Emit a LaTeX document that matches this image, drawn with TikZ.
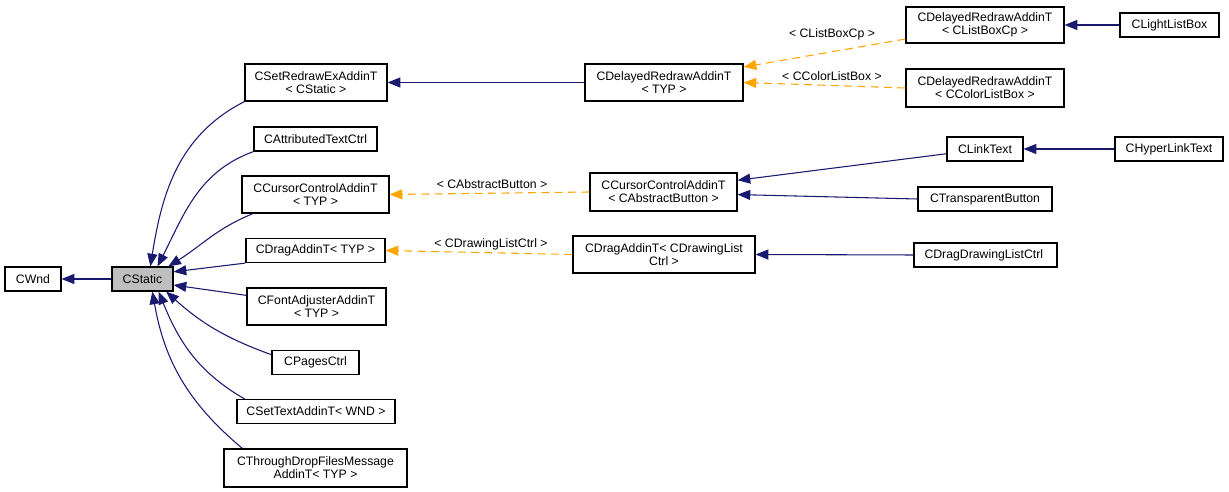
\documentclass[tikz,border=0pt]{standalone}
\usepackage{fontspec}
\setmainfont{Liberation Sans}
\usetikzlibrary{arrows.meta}
\definecolor{doxyNavy}{HTML}{191970}
\definecolor{doxyOrange}{HTML}{FFA500}
\definecolor{doxyGray}{HTML}{BFBFBF}
\newcommand\colorInherit{doxyNavy}
\newcommand\colorTemplate{doxyOrange}
\newcommand\pxUnit{0.75pt}
\newcommand\classFont{\fontsize{9.2}{9.8}\selectfont}
\tikzset{
	classbox/.style={draw=black, line width=0.9pt, rectangle, align=center, inner sep=0pt, font=\classFont},
	inheritLine/.style={draw=\colorInherit, line width=0.8pt, -{Triangle[length=9.5pt,width=7.5pt]}},
	templateLine/.style={draw=\colorTemplate, line width=0.8pt, dash pattern=on 6pt off 4pt, -{Triangle[length=9.5pt,width=7.5pt]}},
	edgelabel/.style={inner sep=0pt, font=\classFont}
}

\begin{document}
\begin{tikzpicture}[x=\pxUnit, y=\pxUnit]
	\useasboundingbox (0,0) rectangle (1229,492);
	
	% class boxes: name / centre x / centre y / width / height / fill / text
	\foreach \boxName/\posX/\posY/\boxW/\boxH/\boxFill/\boxText in {
		cwnd/33/213/56/24/white/{CWnd},
		cstatic/142.5/213/61/24/doxyGray/{CStatic},
		csetRedraw/316/409.5/142/37/white/{CSetRedrawExAddinT\\< CStatic >},
		cattributed/315.5/353/123/24/white/{CAttributedTextCtrl},
		ccursorTyp/315.5/297.5/147/37/white/{CCursorControlAddinT\\< TYP >},
		cdragTyp/315.5/241.5/139/24/white/{CDragAddinT< TYP >},
		cfontAdj/316.5/185.5/139/37/white/{CFontAdjusterAddinT\\< TYP >},
		cpages/315.5/129.5/87/24/white/{CPagesCtrl},
		csetText/316/80.5/158/24/white/{CSetTextAddinT< WND >},
		cthrough/315.5/24/183/38/white/{CThroughDropFilesMessage\\AddinT< TYP >},
		cdelayedTyp/664/409.5/158/37/white/{CDelayedRedrawAddinT\\< TYP >},
		ccursorAbs/663.5/300/147/38/white/{CCursorControlAddinT\\< CAbstractButton >},
		cdragList/664/237.5/182/37/white/{CDragAddinT< CDrawingList\\Ctrl >},
		cdelayedList/985/467/158/36/white/{CDelayedRedrawAddinT\\< CListBoxCp >},
		clightList/1169.5/467/99/24/white/{CLightListBox},
		cdelayedColor/985/404/158/38/white/{CDelayedRedrawAddinT\\< CColorListBox >},
		clinkText/985/343/76/24/white/{CLinkText},
		chyperLink/1169/343/108/24/white/{CHyperLinkText},
		ctransparent/985/293/134/24/white/{CTransparentButton},
		cdragDrawing/985.5/237/143/24/white/{CDragDrawingListCtrl}
	}{
		\node[classbox, fill=\boxFill, minimum width=\boxW*\pxUnit, minimum height=\boxH*\pxUnit] (\boxName) at (\posX,\posY) {\boxText};
	}
	
	% template arguments
	\node[edgelabel] (lblListBoxCp) at (832,458) {< CListBoxCp >};
	\node[edgelabel] (lblColorListBox) at (832,416) {< CColorListBox >};
	\node[edgelabel] (lblAbstractButton) at (492,308) {< CAbstractButton >};
	\node[edgelabel] (lblDrawingList) at (491,248) {< CDrawingListCtrl >};
	
	% CStatic and its children
	\draw[inheritLine] (cstatic.west) to (cwnd.east);
	\draw[inheritLine] (csetRedraw.south west) to[out=207, in=81] (cstatic.58);
	\draw[inheritLine] (cattributed.south west) to[out=200, in=63] (cstatic.40);
	\draw[inheritLine] (ccursorTyp.197) to[out=202, in=32] (cstatic.26);
	\draw[inheritLine] (cdragTyp.south west) to (cstatic.13);
	\draw[inheritLine] (cfontAdj.171) to (cstatic.-11);
	\draw[inheritLine] (cpages.170) to[out=160, in=-42] (cstatic.-28);
	\draw[inheritLine] (csetText.170) to[out=150, in=-68] (cstatic.-38);
	\draw[inheritLine] (cthrough.165) to[out=140, in=-80] (cstatic.-52);
	
	% template instances
	\draw[templateLine] (cdelayedList.190) to (cdelayedTyp.11);
	\draw[templateLine] (cdelayedColor.west) to (cdelayedTyp.east);
	\draw[templateLine] (ccursorAbs.west) to (ccursorTyp.east);
	\draw[templateLine] (cdragList.west) to (cdragTyp.east);
	
	\draw[inheritLine] (cdelayedTyp.west) to (csetRedraw.east);
	\draw[inheritLine] (clightList.west) to (cdelayedList.east);
	\draw[inheritLine] (chyperLink.west) to (clinkText.east);
	\draw[inheritLine] (clinkText.187) to (ccursorAbs.9);
	\draw[inheritLine] (ctransparent.west) to (ccursorAbs.-2);
	\draw[inheritLine] (cdragDrawing.west) to (cdragList.east);
\end{tikzpicture}
\end{document}
